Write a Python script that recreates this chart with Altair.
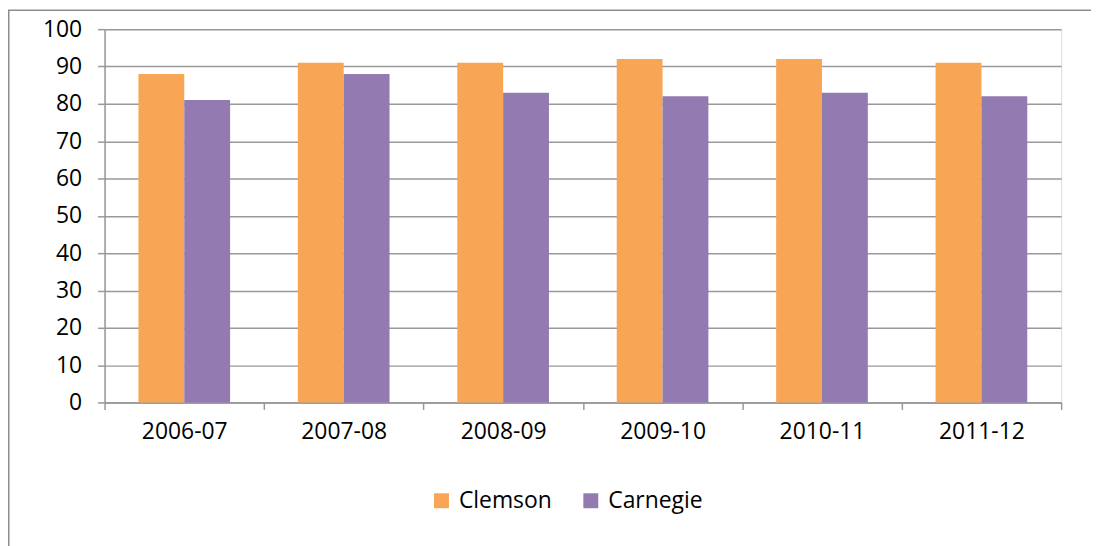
import altair as alt
import pandas as pd

years = ["2006-07", "2007-08", "2008-09", "2009-10", "2010-11", "2011-12"]
clemson = [88, 91, 91, 92, 92, 91]
carnegie = [81, 88, 83, 82, 83, 82]
series = ["Clemson", "Carnegie"]
colors = ["#F8A655", "#937BB2"]

rows = []
for i, y in enumerate(years):
    rows.append({"year": y, "school": "Clemson", "value": clemson[i]})
    rows.append({"year": y, "school": "Carnegie", "value": carnegie[i]})
df = pd.DataFrame(rows)

FONT = "Open Sans"
FS = 23

bars = alt.Chart(df).mark_bar().encode(
    x=alt.X("year:N", sort=years, title=None,
            scale=alt.Scale(paddingInner=0, paddingOuter=0),
            axis=alt.Axis(labelAngle=0, tickBand="extent", tickSize=7,
                          tickColor="#999999", domainColor="#999999",
                          domainWidth=1.5, tickWidth=1.5,
                          labelPadding=11, labelFontSize=FS, labelColor="#000000",
                          labelFont=FONT, grid=False)),
    xOffset=alt.XOffset("school:N", sort=series,
                        scale=alt.Scale(paddingInner=0, paddingOuter=0.739)),
    y=alt.Y("value:Q", title=None,
            scale=alt.Scale(domain=[0, 100], nice=False),
            axis=alt.Axis(values=list(range(0, 101, 10)), tickSize=7,
                          tickColor="#999999", domainColor="#999999",
                          domainWidth=1.5, tickWidth=1.5,
                          gridColor="#999999", gridWidth=1.5,
                          labelPadding=16, labelFontSize=FS, labelColor="#000000",
                          labelFont=FONT)),
    color=alt.Color("school:N", sort=series,
                    scale=alt.Scale(domain=series, range=colors),
                    legend=alt.Legend(title=None, orient="none", direction="horizontal",
                                      legendX=327, legendY=462, padding=0,
                                      symbolType="square", symbolSize=225,
                                      symbolStrokeWidth=0,
                                      labelFontSize=FS, labelFont=FONT,
                                      labelColor="#000000", columnPadding=27,
                                      labelOffset=6)),
)

border = alt.Chart(pd.DataFrame({"a": [0]})).mark_rect(
    fill=None, stroke="#8c8c8c", strokeWidth=1.5, clip=False
).encode(
    x=alt.value(-96.25), x2=alt.value(1100), y=alt.value(-19), y2=alt.value(700)
)

chart = alt.layer(border, bars).properties(
    width=961, height=375,
    autosize=alt.AutoSizeParams(type="none"),
    padding={"left": 97, "top": 20, "right": 30, "bottom": 160},
).configure_view(stroke=None).configure(background="#ffffff")

chart.save("out.html", embed_options={"renderer": "svg", "actions": False})
